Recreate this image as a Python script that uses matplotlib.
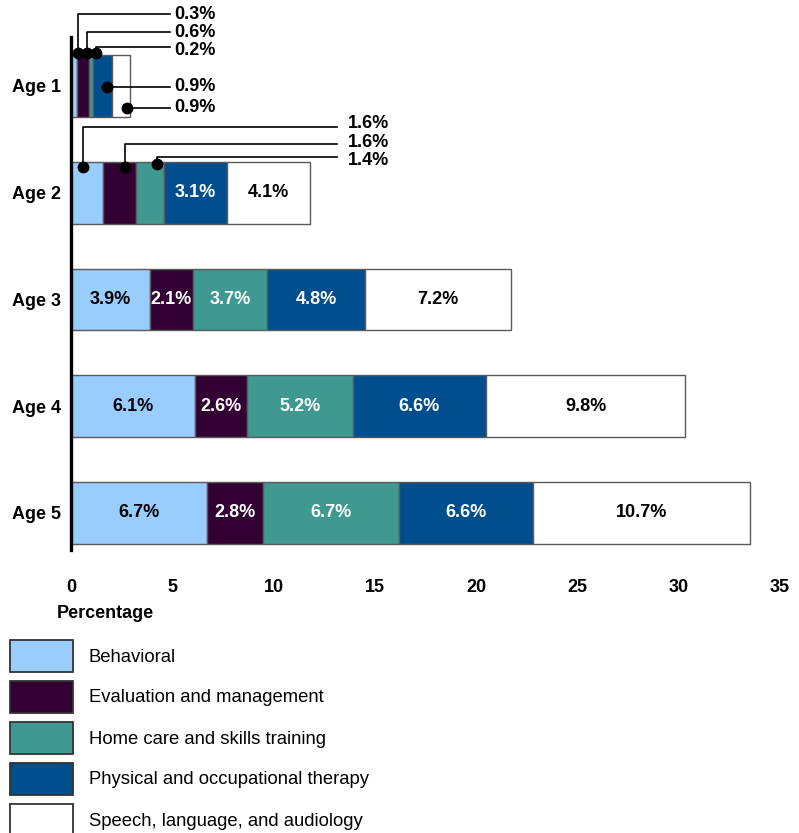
import matplotlib
matplotlib.use("Agg")
import matplotlib.pyplot as plt
from matplotlib.patches import Rectangle
import numpy as np

plt.rcParams['font.family'] = ['Liberation Sans', 'DejaVu Sans']

# ---- data ----
ages = ["Age 1", "Age 2", "Age 3", "Age 4", "Age 5"]
categories = ["Behavioral", "Evaluation and management", "Home care and skills training",
              "Physical and occupational therapy", "Speech, language, and audiology"]
behavioral = [0.3, 1.6, 3.9, 6.1, 6.7]
evaluation = [0.6, 1.6, 2.1, 2.6, 2.8]
homecare = [0.2, 1.4, 3.7, 5.2, 6.7]
physical = [0.9, 3.1, 4.8, 6.6, 6.6]
speech = [0.9, 4.1, 7.2, 9.8, 10.7]
xticks = [0, 5, 10, 15, 20, 25, 30, 35]

# ---- style ----
colors = ["#99CCFF", "#330033", "#3F9990", "#004E8E", "#FFFFFF"]
text_colors = ["black", "white", "white", "white", "black"]
edge = "#5a5a5a"
FS = 13
W, H = 799, 833
fig = plt.figure(figsize=(W / 100, H / 100), dpi=100)

ax_l, ax_r, ax_t, ax_b = 71, 780, 37, 550
ax = fig.add_axes([ax_l / W, 1 - ax_b / H, (ax_r - ax_l) / W, (ax_b - ax_t) / H])
ax.set_xlim(0, 35)
ax.set_ylim(4.347, -0.459)

series = [behavioral, evaluation, homecare, physical, speech]
ypos = np.arange(len(ages))
bar_h = 0.58
left = np.zeros(len(ages))
centers = []
for s, vals in enumerate(series):
    vals = np.array(vals)
    ax.barh(ypos, vals, left=left, height=bar_h, color=colors[s],
            edgecolor=edge, linewidth=1.0, zorder=2)
    centers.append(left + vals / 2)
    left = left + vals
centers = np.array(centers)  # [series, age]

px_per_unit = (ax_r - ax_l) / 35


def px_to_y(py):
    return (py - 86) / 106.75


def px_to_x(px):
    return (px - ax_l) / px_per_unit


called = set()
callouts = [
    # age, series, dot_dx_px, dot_y_px, line_y_px, label_y_px, line_end_px, label_px
    (0, 0, 4, 53, 14, 14, 170, 174),
    (0, 1, 4, 53, 32, 33, 170, 174),
    (0, 2, 5, 53, 47, 51, 170, 174),
    (0, 3, 5, 87, 87, 87, 170, 174),
    (0, 4, 6, 108, 108, 108, 170, 174),
    (1, 0, -4, 167, 127, 124, 337, 348),
    (1, 1, 5, 167, 144, 143, 337, 348),
    (1, 2, 7, 164, 157, 161, 337, 348),
]
for a, s, ddx, dy, ly, ty, le, tx in callouts:
    called.add((a, s))
    cx = centers[s, a] + ddx / px_per_unit
    if dy != ly:
        xs = [cx, cx, px_to_x(le)]
        ys = [px_to_y(dy), px_to_y(ly), px_to_y(ly)]
    else:
        xs = [cx, px_to_x(le)]
        ys = [px_to_y(dy), px_to_y(ly)]
    ax.plot(xs, ys, color="black", lw=1.2, zorder=3, clip_on=False)
    ax.plot([cx], [px_to_y(dy)], 'o', color="black", ms=7.5, zorder=4, clip_on=False)
    ax.text(px_to_x(tx), px_to_y(ty), f"{series[s][a]:.1f}%", ha="left", va="center",
            fontsize=FS, fontweight="bold", color="black", clip_on=False)

for a in range(len(ages)):
    for s in range(len(series)):
        if (a, s) in called:
            continue
        ax.text(centers[s, a], ypos[a], f"{series[s][a]:.1f}%", ha="center", va="center",
                fontsize=FS, fontweight="bold", color=text_colors[s], zorder=5)

ax.set_yticks(ypos)
ax.set_yticklabels(ages, fontsize=FS, fontweight="bold")
ax.set_xticks(xticks)
ax.set_xticklabels([str(t) for t in xticks], fontsize=FS, fontweight="bold")
ax.tick_params(axis="both", length=0)
ax.tick_params(axis="x", pad=21)
ax.tick_params(axis="y", pad=7)
for sp in ["top", "right", "bottom"]:
    ax.spines[sp].set_visible(False)
ax.spines["left"].set_linewidth(2.4)
ax.spines["left"].set_color("black")
ax.spines["left"].set_zorder(6)

fig.text(57 / W, 1 - 614 / H, "Percentage", ha="left", va="center",
         fontsize=FS, fontweight="bold")

# legend
for i, (lab, c) in enumerate(zip(categories, colors)):
    top = 640 + 41 * i
    fig.patches.append(Rectangle((10 / W, 1 - (top + 32) / H), 63 / W, 32 / H,
                                 transform=fig.transFigure, facecolor=c,
                                 edgecolor="#333333", linewidth=1.3))
    fig.text(89 / W, 1 - (top + 17) / H, lab, ha="left", va="center", fontsize=13.3)

fig.savefig("out.png", dpi=100)
